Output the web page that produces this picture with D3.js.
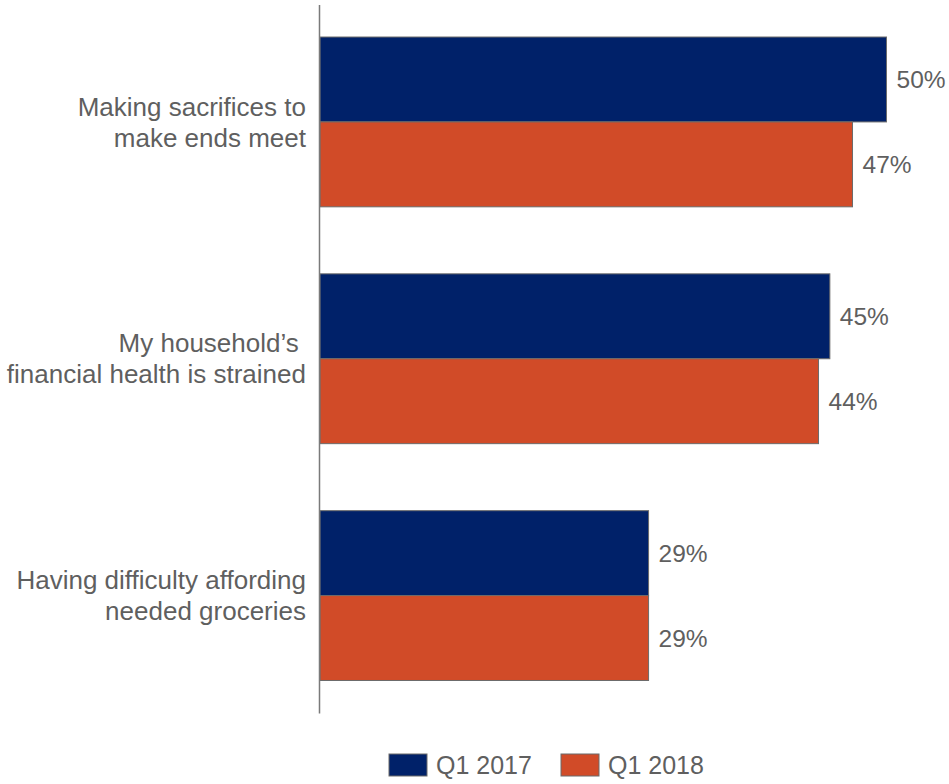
<!DOCTYPE html>
<html>
<head>
<meta charset="utf-8">
<script src="https://cdn.jsdelivr.net/npm/d3@7"></script>
<style>
  html, body { margin: 0; padding: 0; background: #fff; }
  svg { display: block; font-family: "Liberation Sans", Arial, sans-serif; }
</style>
</head>
<body>
<svg id="chart" width="949" height="784"></svg>
<script>
// Survey statements (two-line labels) and share of respondents agreeing
const categories = [
  ["Making sacrifices to", "make ends meet"],
  ["My household\u2019s\u00a0", "financial health is strained"],
  ["Having difficulty affording", "needed groceries"]
];
const seriesNames = ["Q1 2017", "Q1 2018"];
const q1_2017 = [50, 45, 29];
const q1_2018 = [47, 44, 29];
const colors = ["#002169", "#D14B28"];

const svg = d3.select("#chart");
const textColor = "#5f5f5f";

const rows = categories.map((c, i) => ({
  key: c.join(" "),
  lines: c,
  values: [q1_2017[i], q1_2018[i]]
}));

const y = d3.scaleBand()
  .domain(rows.map(d => d.key))
  .range([3.5, 714])
  .paddingInner(0.283)
  .paddingOuter(0.1415);

const ySub = d3.scaleBand()
  .domain(seriesNames)
  .range([0, y.bandwidth()]);

const x = d3.scaleLinear().domain([0, 50]).range([320, 886.5]);

// bars
const groups = svg.append("g").selectAll("g")
  .data(rows)
  .join("g")
  .attr("transform", d => `translate(0,${y(d.key)})`);

groups.selectAll("rect")
  .data(d => d.values.map((v, j) => ({ v, s: seriesNames[j], j })))
  .join("rect")
  .attr("x", x(0))
  .attr("y", d => ySub(d.s))
  .attr("width", d => x(d.v) - x(0))
  .attr("height", ySub.bandwidth())
  .attr("fill", d => colors[d.j])
  .attr("stroke", "#6b6b6b")
  .attr("stroke-width", 1);

// value labels
groups.selectAll("text.val")
  .data(d => d.values.map((v, j) => ({ v, s: seriesNames[j] })))
  .join("text")
  .attr("class", "val")
  .attr("x", d => x(d.v) + 10)
  .attr("y", d => ySub(d.s) + ySub.bandwidth() / 2)
  .attr("dy", "0.35em")
  .attr("fill", textColor)
  .attr("font-size", 24.5)
  .text(d => d.v + "%");

// category labels
const lineH = 31;
groups.append("text")
  .attr("text-anchor", "end")
  .attr("fill", textColor)
  .attr("font-size", 26)
  .selectAll("tspan")
  .data(d => d.lines.map((t, k) => ({ t, k, n: d.lines.length })))
  .join("tspan")
  .attr("x", 306)
  .attr("y", d => y.bandwidth() / 2 + (d.k - (d.n - 1) / 2) * lineH)
  .attr("dy", "0.35em")
  .text(d => d.t);

// vertical axis line
svg.append("line")
  .attr("x1", 319.5).attr("x2", 319.5)
  .attr("y1", 5).attr("y2", 713.5)
  .attr("stroke", "#7a7a7a")
  .attr("stroke-width", 1.5);

// legend
const legend = svg.append("g");
const legendItems = [
  { name: seriesNames[0], x: 389 },
  { name: seriesNames[1], x: 561 }
];
const li = legend.selectAll("g")
  .data(legendItems)
  .join("g")
  .attr("transform", d => `translate(${d.x},754)`);
li.append("rect")
  .attr("width", 38).attr("height", 22)
  .attr("fill", (d, i) => colors[i])
  .attr("stroke", "#6b6b6b")
  .attr("stroke-width", 1);
li.append("text")
  .attr("x", 47)
  .attr("y", 11)
  .attr("dy", "0.35em")
  .attr("fill", textColor)
  .attr("font-size", 25)
  .text(d => d.name);
</script>
</body>
</html>
